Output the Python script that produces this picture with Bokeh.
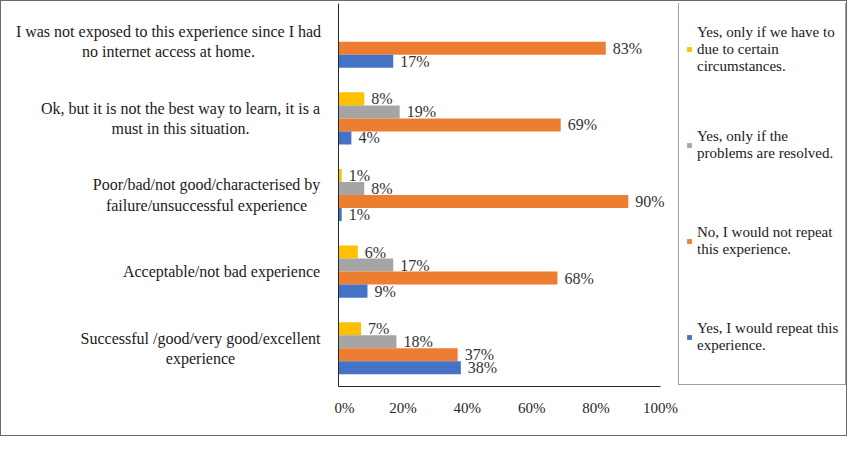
from bokeh.plotting import figure
from bokeh.layouts import row
from bokeh.models import (Range1d, ColumnDataSource, LabelSet, Legend,
                          LegendItem, FixedTicker, PrintfTickFormatter)
from bokeh.core.properties import value
from bokeh.embed import file_html
from bokeh.resources import INLINE

# ---------------- data ----------------
categories = [
    "I was not exposed to this experience since I had\nno internet access at home.",
    "Ok, but it is not the best way to learn, it is a\nmust in this situation.",
    "Poor/bad/not good/characterised by\nfailure/unsuccessful experience",
    "Acceptable/not bad experience",
    "Successful /good/very good/excellent\nexperience",
]
series_names = [
    "Yes, only if we have to\ndue to certain\ncircumstances.",
    "Yes, only if the\nproblems are resolved.",
    "No, I would not repeat\nthis experience.",
    "Yes, I would repeat this\nexperience.",
]
yes_if_have_to = [0, 8, 1, 6, 7]
yes_if_resolved = [0, 19, 8, 17, 18]
no_repeat = [83, 69, 90, 68, 37]
yes_repeat = [17, 4, 1, 9, 38]
x_ticks = [0, 20, 40, 60, 80, 100]

series_values = [yes_if_have_to, yes_if_resolved, no_repeat, yes_repeat]
colors = ["#FFC000", "#A5A5A5", "#ED7D31", "#4472C4"]

# layout constants (pixels)
W, H = 845, 434
TOP, BOTTOM = 2, 49
LEFT_W = 333
AXIS_GAP = 4
LEG_W = 168
MAIN_RIGHT = 4
FRAME_W = W - LEFT_W - LEG_W - AXIS_GAP - MAIN_RIGHT
PX_PER_100 = 322            # pixel length of the 0-100 % scale
X_MAX = FRAME_W / PX_PER_100 * 100
label_centers_px = [167, 179, 205, 220, 199]  # centre of each category text block

FONT = "Liberation Serif"
n = len(categories)
bar_h = 0.17
y_range = Range1d(0, n)
centers = [n - 0.5 - i for i in range(n)]

# ---------- left: category texts ----------
left = figure(width=LEFT_W, height=H, output_backend="svg", toolbar_location=None,
              x_range=Range1d(0, LEFT_W), y_range=y_range,
              min_border_left=0, min_border_right=0,
              min_border_top=TOP, min_border_bottom=BOTTOM)
left.axis.visible = False
left.grid.visible = False
left.outline_line_color = None
left.text(x=label_centers_px, y=centers, text=categories,
          text_align="center", text_baseline="middle",
          text_font=value(FONT), text_font_size="16px",
          text_color="#1a1a1a", text_line_height=1.2)

# ---------- main chart ----------
p = figure(width=AXIS_GAP + FRAME_W + MAIN_RIGHT, height=H, output_backend="svg",
           toolbar_location=None, x_range=Range1d(0, X_MAX), y_range=y_range,
           min_border_left=AXIS_GAP, min_border_right=MAIN_RIGHT,
           min_border_top=TOP, min_border_bottom=BOTTOM)
p.outline_line_color = None
p.xgrid.visible = False
p.ygrid.visible = False

p.xaxis.ticker = FixedTicker(ticks=x_ticks)
p.xaxis.bounds = (0, 100)
p.xaxis.formatter = PrintfTickFormatter(format="%d%%")
p.xaxis.major_tick_line_color = None
p.xaxis.minor_tick_line_color = None
p.xaxis.axis_line_color = "#262626"
p.xaxis.major_label_text_font = FONT
p.xaxis.major_label_text_font_size = "15px"
p.xaxis.major_label_text_color = "#262626"
p.xaxis.major_label_standoff = 7

p.yaxis.ticker = FixedTicker(ticks=[])
p.yaxis.major_tick_line_color = None
p.yaxis.minor_tick_line_color = None
p.yaxis.major_tick_out = 0
p.yaxis.major_label_standoff = 0
p.yaxis.axis_line_color = "#262626"

# ---------- legend panel ----------
leg = figure(width=LEG_W, height=H, output_backend="svg", toolbar_location=None,
             x_range=Range1d(0, 1), y_range=Range1d(0, 1),
             min_border_left=0, min_border_right=0, min_border_top=TOP,
             min_border_bottom=BOTTOM)
leg.axis.visible = False
leg.grid.visible = False
leg.outline_line_color = None

items = []
for k, (vals, col, name) in enumerate(zip(series_values, colors, series_names)):
    ys = [c + (1.5 - k) * bar_h for c in centers]
    src = ColumnDataSource(dict(y=ys, v=vals))
    p.hbar(y="y", right="v", left=0, height=bar_h, source=src,
           fill_color=col, line_color=None)
    # legend key: a renderer kept outside the visible range of the legend panel
    key = leg.hbar(y=[-5], right=[0], left=0, height=0.1,
                   fill_color=col, line_color=None)
    items.append(LegendItem(label=name, renderers=[key]))
    lab_y = [y for y, v in zip(ys, vals) if v > 0]
    lab_v = [v for v in vals if v > 0]
    lsrc = ColumnDataSource(dict(y=lab_y, v=lab_v, t=[f"{v}%" for v in lab_v]))
    p.add_layout(LabelSet(x="v", y="y", text="t", source=lsrc, x_offset=7,
                          text_baseline="middle", text_font=FONT,
                          text_font_size="16px", text_color="#333333"))

legend = Legend(items=items, location=(0, 1), orientation="vertical",
                label_text_font=FONT, label_text_font_size="15px",
                label_text_color="#1a1a1a", glyph_width=6, glyph_height=6,
                label_height=80, spacing=16, padding=7, margin=0,
                label_standoff=5, border_line_color="#404040",
                background_fill_color="white", background_fill_alpha=1)
leg.add_layout(legend, "center")

layout = row(left, p, leg, spacing=0)
layout.styles = {"border": "1px solid #6b6b6b"}

open("out.html", "w").write(file_html(layout, INLINE))
